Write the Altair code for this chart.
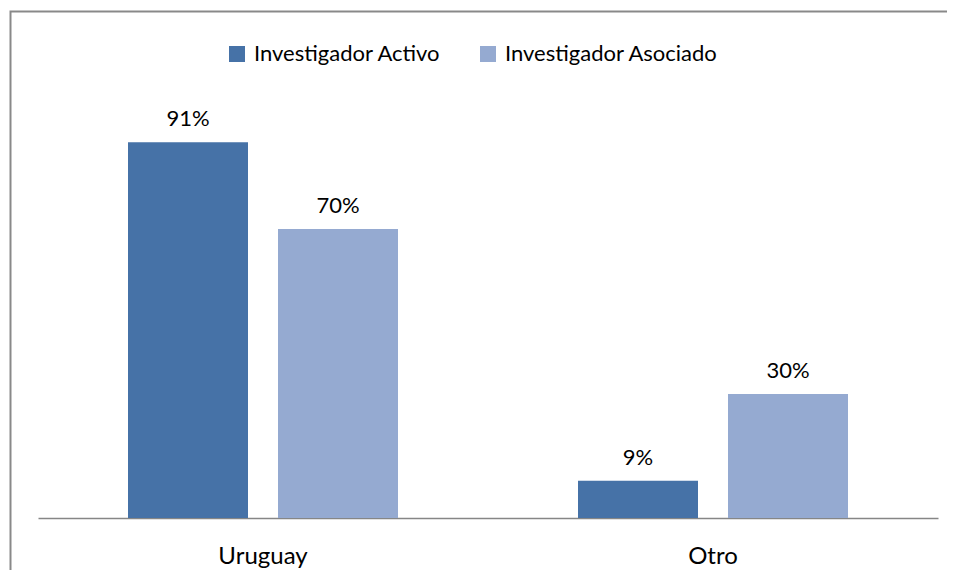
import altair as alt
import pandas as pd

categories = ["Uruguay", "Uruguay", "Otro", "Otro"]
series = ["Investigador Activo", "Investigador Asociado", "Investigador Activo", "Investigador Asociado"]
values = [0.91, 0.70, 0.09, 0.30]

cat_order = ["Uruguay", "Otro"]
series_order = ["Investigador Activo", "Investigador Asociado"]
colors = ["#4672A7", "#95AAD1"]

df = pd.DataFrame({"cat": categories, "serie": series, "val": values})

FONT = "Lato"

base = alt.Chart(df).encode(
    x=alt.X("cat:N", sort=cat_order, title=None,
            scale=alt.Scale(paddingInner=0, paddingOuter=0),
            axis=alt.Axis(labelAngle=0, ticks=False, tickSize=0, labelFontSize=24,
                          labelFont=FONT, labelColor="#000000", labelBaseline="alphabetic",
                          labelPadding=45, domainColor="#868686", domainWidth=1.5,
                          grid=False)),
    xOffset=alt.XOffset("serie:N", sort=series_order,
                        scale=alt.Scale(paddingInner=0.2, paddingOuter=0.6)),
    y=alt.Y("val:Q", scale=alt.Scale(domain=[0, 1]), axis=None),
)

bars = base.mark_bar().encode(
    color=alt.Color("serie:N", sort=series_order,
                    scale=alt.Scale(domain=series_order, range=colors),
                    legend=alt.Legend(title=None, orient="none", direction="horizontal",
                                      legendX=188, legendY=-62,
                                      symbolType="square", symbolSize=256,
                                      symbolStrokeWidth=0, labelFont=FONT,
                                      labelFontSize=22, labelColor="#000000",
                                      labelOffset=6, columnPadding=36, labelLimit=0))
)

labels = base.mark_text(font=FONT, fontSize=22, color="#000000",
                        baseline="alphabetic", dy=-16).encode(
    text=alt.Text("val:Q", format=".0%")
)

border = alt.Chart(alt.Data(values=[{"a": 1}])).mark_rect(
    fill=None, stroke="#898989", strokeWidth=2
).encode(
    x=alt.value(-27.5), x2=alt.value(1000),
    y=alt.value(-93.5), y2=alt.value(600),
)

chart = alt.layer(border, bars, labels).properties(
    width=900, height=413,
    padding={"left": 30, "top": 97, "right": 9, "bottom": 52},
    autosize=alt.AutoSizeParams(type="none"),
    background="white",
).configure_view(strokeWidth=0)

chart.save("out.html", embed_options={"renderer": "svg", "actions": False})
